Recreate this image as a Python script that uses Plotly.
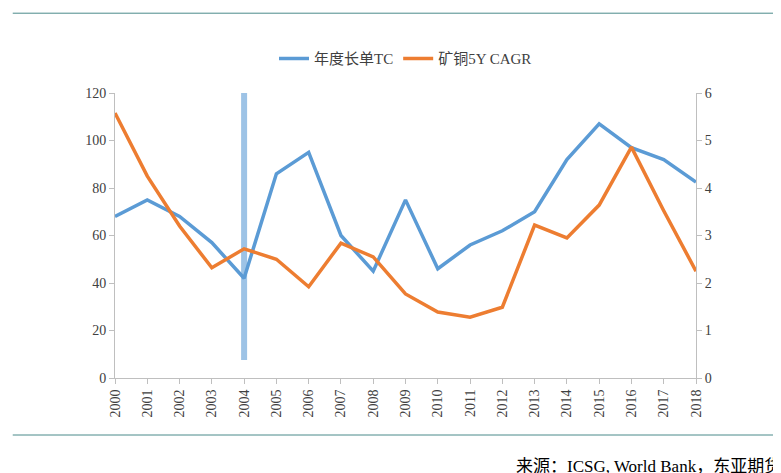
import plotly.graph_objects as go

years = [str(y) for y in range(2000, 2019)]
tc = [68, 75, 68, 57, 42, 86, 95, 60, 45, 75, 46, 56, 62, 70, 92, 107, 97, 92, 82.5]
cagr = [5.58, 4.25, 3.2, 2.32, 2.72, 2.5, 1.92, 2.84, 2.55, 1.77, 1.39, 1.28, 1.49, 3.22, 2.95, 3.64, 4.86, 3.52, 2.25]
marker_year = "2004"

font = "Liberation Serif, Noto Sans CJK SC"
fig = go.Figure()
fig.add_trace(go.Scatter(x=years, y=tc, name="年度长单TC", mode="lines",
                         line=dict(color="#5B9BD5", width=3.5)))
fig.add_trace(go.Scatter(x=years, y=cagr, name="矿铜5Y CAGR", mode="lines", yaxis="y2",
                         line=dict(color="#ED7D31", width=3.5)))
xi = years.index(marker_year)
fig.add_shape(type="line", xref="x", yref="y", x0=xi, x1=xi, y0=7.6, y1=129,
              line=dict(color="#9DC3E6", width=6), layer="below")
for yy in [1.28, -0.2]:
    fig.add_shape(type="line", xref="paper", yref="paper", x0=-0.176, x1=1.15, y0=yy, y1=yy,
                  line=dict(color="#4A8A8A", width=1))
fig.add_annotation(text="来源：ICSG, World Bank，东亚期货", xref="paper", yref="paper",
                   x=1.15, y=-0.31, xanchor="right", yanchor="middle", showarrow=False,
                   font=dict(size=17, color="#000", family=font))
fig.update_layout(
    width=781, height=473, margin=dict(l=107, r=93, t=85, b=103),
    plot_bgcolor="white", paper_bgcolor="white",
    font=dict(family=font, size=14, color="#404040"),
    showlegend=True,
    legend=dict(orientation="h", x=0.5, xanchor="center", y=1.12, yanchor="middle",
                font=dict(size=15, color="#404040")),
    xaxis=dict(type="category", tickangle=-90, showline=True, linecolor="#BFBFBF",
               ticks="outside", tickcolor="#BFBFBF", showgrid=False),
    yaxis=dict(range=[0, 120], dtick=20, showgrid=False, showline=True, linecolor="#BFBFBF",
               ticks="outside", tickcolor="#BFBFBF", zeroline=False),
    yaxis2=dict(range=[0, 6], dtick=1, overlaying="y", side="right", showgrid=False,
                showline=True, linecolor="#BFBFBF", ticks="outside", tickcolor="#BFBFBF",
                zeroline=False),
)
fig.write_html("out.html")
